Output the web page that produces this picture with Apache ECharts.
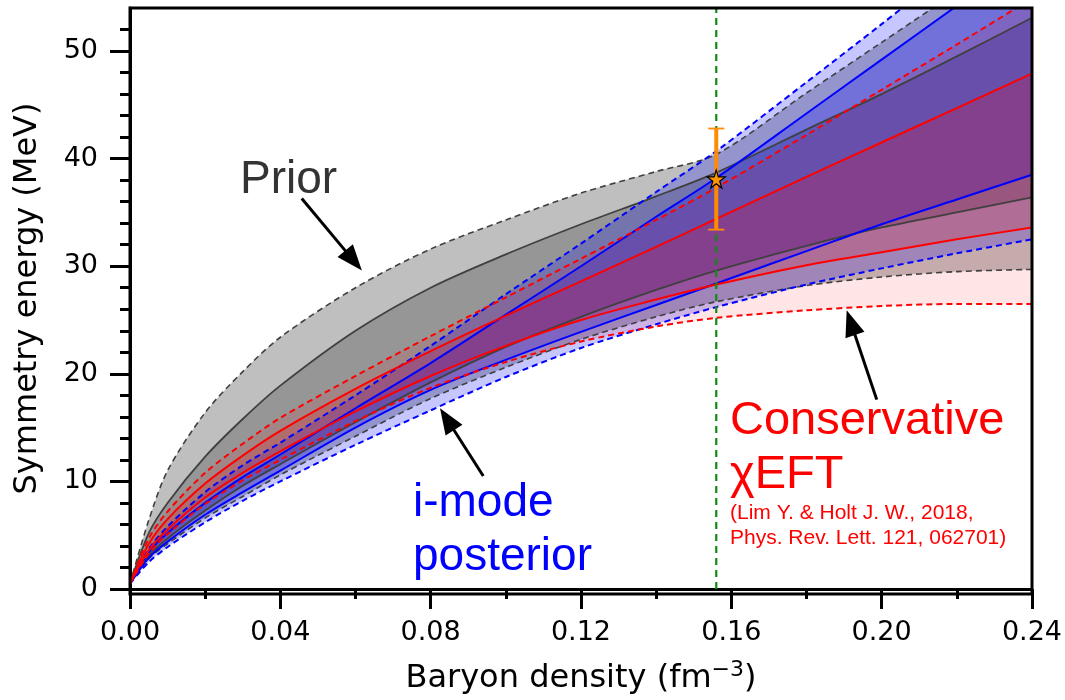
<!DOCTYPE html>
<html><head><meta charset="utf-8">
<script src="https://cdn.jsdelivr.net/npm/echarts@6/dist/echarts.min.js"></script>
<style>html,body{margin:0;padding:0;background:#fff}#c{width:1065px;height:700px}</style>
</head><body><div id="c"></div>
<script>
// ---- data ----
const density = [0, 0.005, 0.01, 0.02, 0.03, 0.04, 0.06, 0.08, 0.10, 0.12, 0.14, 0.156, 0.18, 0.20, 0.22, 0.24];

const priorUpper95 = [0.5, 6.4, 11.0, 16.4, 20.2, 23.4, 28.0, 31.6, 34.3, 36.8, 38.8, 40.4, 46.1, 50.8, 55.5, 60.2];
const priorUpper68 = [0.5, 5.2, 8.0, 12.3, 15.8, 18.9, 24.0, 28.0, 31.1, 33.9, 36.5, 38.7, 42.7, 46.0, 49.5, 53.1];
const priorLower68 = [0.5, 3.1, 4.7, 7.3, 9.6, 11.6, 15.5, 19.2, 22.5, 25.3, 27.8, 29.6, 31.9, 33.6, 35.0, 36.4];
const priorLower95 = [0.5, 2.8, 4.2, 6.6, 8.6, 10.6, 14.2, 17.7, 20.6, 23.2, 25.3, 26.7, 28.2, 29.0, 29.5, 29.7];

const imodeUpper95 = [0.5, 3.7, 5.8, 9.0, 11.5, 13.6, 18.0, 22.6, 27.4, 32.1, 36.9, 40.7, 47.1, 52.5, 58.0, 63.4];
const imodeUpper68 = [0.5, 3.4, 5.2, 8.0, 10.4, 12.5, 16.8, 21.0, 25.5, 30.0, 34.6, 38.2, 44.2, 49.2, 54.2, 59.2];
const imodeLower68 = [0.5, 2.9, 4.4, 6.9, 9.0, 11.0, 15.0, 18.5, 21.3, 23.9, 26.4, 28.4, 31.4, 33.9, 36.2, 38.5];
const imodeLower95 = [0.5, 2.5, 3.9, 6.2, 8.2, 10.0, 13.4, 16.6, 19.7, 22.4, 24.6, 26.2, 28.3, 29.8, 31.2, 32.5];

const eftUpper95 = [0.5, 4.7, 7.2, 10.8, 13.5, 15.9, 19.8, 23.5, 27.1, 30.7, 34.3, 37.3, 42.2, 46.4, 50.6, 54.9];
const eftUpper68 = [0.5, 4.2, 6.5, 9.8, 12.4, 14.7, 18.6, 22.1, 25.4, 28.6, 31.8, 34.4, 38.3, 41.5, 44.7, 47.9];
const eftLower68 = [0.5, 3.6, 5.5, 8.5, 10.8, 12.8, 16.5, 19.8, 22.6, 25.0, 26.9, 28.3, 30.1, 31.3, 32.5, 33.6];
const eftLower95 = [0.5, 3.3, 5.1, 7.9, 10.1, 12.0, 15.6, 18.7, 21.1, 23.0, 24.4, 25.2, 25.9, 26.3, 26.5, 26.5];

const saturationDensity = [0.156];
const measurement = [[0.156, 38.1, 33.4, 42.8]]; // x, value, low, high

const yMajorTicks = [0, 10, 20, 30, 40, 50];
const yMinorTicks = [2,4,6,8,12,14,16,18,22,24,26,28,32,34,36,38,42,44,46,48,52];

// annotation arrows: tail x, tail y, tip x, tip y (data units)
const arrows = [
  [0.0457, 36.3, 0.0617, 29.6],
  [0.0940, 10.5, 0.0825, 16.8],
  [0.1987, 17.6, 0.1907, 25.9]
];

// ---- chart ----
const SM = 0.3;
const Y_MIN = 0, Y_MAX = 54;
const pts = ys => density.map((x, i) => [x, ys[i]]);
// stacked band: store [value, x] so the value dimension is the stacked one
const ptsSwap = ys => density.map((x, i) => [ys[i], x]);
const diffSwap = (up, lo) => density.map((x, i) => [up[i] - lo[i], x]);

function band(id, lo, up, color) {
  return [
    {type:'line', stack:id, data:ptsSwap(lo), encode:{x:1, y:0}, symbol:'none', smooth:SM, silent:true,
     lineStyle:{width:0, opacity:0}},
    {type:'line', stack:id, data:diffSwap(up, lo), encode:{x:1, y:0}, symbol:'none', smooth:SM, silent:true,
     lineStyle:{width:0, opacity:0}, areaStyle:{color:color, opacity:1}}
  ];
}
function curve(ys, color, width, dashed) {
  return {type:'line', data:pts(ys), symbol:'none', smooth:SM, silent:true,
    lineStyle:{color:color, width:width, type: dashed ? [6,4] : 'solid'}};
}

const GRAY = '#404040', BLUE = '#0000ff', RED = '#ff0000';
const series = [].concat(
  band('p95', priorLower95, priorUpper95, 'rgba(128,128,128,0.5)'),
  band('p68', priorLower68, priorUpper68, 'rgba(110,110,110,0.5)'),
  [curve(priorUpper95, GRAY, 1.6, true), curve(priorLower95, GRAY, 1.6, true),
   curve(priorUpper68, GRAY, 1.8, false), curve(priorLower68, GRAY, 1.8, false)],
  band('b95', imodeLower95, imodeUpper95, 'rgba(0,0,255,0.22)'),
  band('b68', imodeLower68, imodeUpper68, 'rgba(0,0,255,0.24)'),
  [curve(imodeUpper95, BLUE, 2, true), curve(imodeLower95, BLUE, 2, true),
   curve(imodeUpper68, BLUE, 2, false), curve(imodeLower68, BLUE, 2, false)],
  band('r95', eftLower95, eftUpper95, 'rgba(255,0,0,0.10)'),
  band('r68', eftLower68, eftUpper68, 'rgba(255,0,0,0.18)'),
  [curve(eftUpper95, RED, 2, true), curve(eftLower95, RED, 2, true),
   curve(eftUpper68, RED, 2, false), curve(eftLower68, RED, 2, false)],
  [{
    type:'custom', data:saturationDensity.map(v => [v]), z:9, silent:true, clip:false,
    encode:{x:0},
    renderItem:function(params, api){
      const x = api.value(0);
      const a = api.coord([x, Y_MIN]), b = api.coord([x, Y_MAX]);
      return {type:'line', shape:{x1:a[0], y1:a[1], x2:b[0], y2:b[1]},
              style:{stroke:'#138a13', lineWidth:2.2, lineDash:[7,5]}};
    }
  },
  {
    type:'custom', data:measurement, z:10, silent:true, clip:false,
    encode:{x:0, y:[1,2,3]},
    renderItem:function(params, api){
      const x = api.value(0);
      const lo = api.coord([x, api.value(2)]), hi = api.coord([x, api.value(3)]);
      const c = '#ff8c00';
      return {type:'group', children:[
        {type:'line', shape:{x1:lo[0], y1:lo[1], x2:hi[0], y2:hi[1]}, style:{stroke:c, lineWidth:4}},
        {type:'line', shape:{x1:lo[0]-8, y1:lo[1], x2:lo[0]+8, y2:lo[1]}, style:{stroke:c, lineWidth:1.8}},
        {type:'line', shape:{x1:hi[0]-8, y1:hi[1], x2:hi[0]+8, y2:hi[1]}, style:{stroke:c, lineWidth:1.8}}
      ]};
    }
  },
  {
    type:'scatter', z:11, silent:true,
    data: measurement.map(d => [d[0], d[1]]),
    symbol:'path://M50,0 L61.2,34.5 L97.6,34.5 L68.2,55.9 L79.4,90.5 L50,69.1 L20.6,90.5 L31.8,55.9 L2.4,34.5 L38.8,34.5 Z',
    symbolSize:18,
    itemStyle:{color:'#ff9500', borderColor:'#000', borderWidth:1.2, opacity:1}
  },
  {
    type:'custom', data:arrows, z:12, silent:true, clip:false,
    encode:{x:[0,2], y:[1,3]},
    renderItem:function(params, api){
      const p1 = api.coord([api.value(0), api.value(1)]);
      const p2 = api.coord([api.value(2), api.value(3)]);
      const dx = p2[0]-p1[0], dy = p2[1]-p1[1], L = Math.hypot(dx, dy);
      const ux = dx/L, uy = dy/L, hl = 26, hw = 10;
      const bx = p2[0]-ux*hl, by = p2[1]-uy*hl;
      return {type:'group', children:[
        {type:'line', shape:{x1:p1[0], y1:p1[1], x2:bx+ux*2, y2:by+uy*2}, style:{stroke:'#000', lineWidth:3}},
        {type:'polygon', shape:{points:[[p2[0],p2[1]],[bx-uy*hw, by+ux*hw],[bx+uy*hw, by-ux*hw]]}, style:{fill:'#000'}}
      ]};
    }
  }]
);

const tickFont = {fontSize:27, color:'#000', fontFamily:'DejaVu Sans'};
const option = {
  animation:false,
  backgroundColor:'#fff',
  grid:{left:130, right:33, top:8, bottom:106},
  xAxis:{
    type:'value', min:0, max:0.24, interval:0.04,
    axisLine:{onZero:false, lineStyle:{color:'#000', width:3}},
    axisTick:{length:20, lineStyle:{color:'#000', width:3}},
    minorTick:{show:true, splitNumber:2, length:10, lineStyle:{color:'#000', width:3}},
    splitLine:{show:false}, minorSplitLine:{show:false},
    axisLabel:Object.assign({margin:30, formatter:v => v.toFixed(2)}, tickFont),
    name:'Baryon density (fm{sup|−3})', nameLocation:'middle', nameGap:70,
    nameTextStyle:{fontSize:32, color:'#000', fontFamily:'DejaVu Sans',
      rich:{sup:{fontSize:22, verticalAlign:'top', padding:[0,0,18,0], color:'#000', fontFamily:'DejaVu Sans'}}}
  },
  yAxis:[{
    type:'value', min:Y_MIN, max:Y_MAX, interval:2,
    axisLine:{onZero:false, lineStyle:{color:'#000', width:3}},
    axisTick:{customValues:yMajorTicks, length:20, lineStyle:{color:'#000', width:3}},
    splitLine:{show:false},
    axisLabel:Object.assign({customValues:yMajorTicks, margin:32}, tickFont),
    name:'Symmetry energy (MeV)', nameLocation:'middle', nameGap:86,
    nameTextStyle:{fontSize:32, color:'#000', fontFamily:'DejaVu Sans'}
  },{
    type:'value', min:Y_MIN, max:Y_MAX, interval:2, position:'left',
    axisLine:{show:false},
    axisTick:{customValues:yMinorTicks, length:10, lineStyle:{color:'#000', width:3}},
    axisLabel:{show:false}, splitLine:{show:false}
  }],
  series:series,
  graphic:[
    {type:'rect', z:100, silent:true, shape:{x:130, y:8, width:902, height:586},
     style:{fill:'none', stroke:'#000', lineWidth:3}},
    {type:'text', left:240, top:157, z:100,
     style:{text:'Prior', fontSize:46, fontFamily:'Liberation Sans', fill:'#333'}},
    {type:'text', left:413, top:476, z:100,
     style:{text:'i-mode\nposterior', fontSize:46, lineHeight:54, fontFamily:'Liberation Sans', fill:'#0000ff'}},
    {type:'text', left:730, top:394, z:100,
     style:{text:'Conservative\nχEFT', fontSize:47, lineHeight:54, fontFamily:'Liberation Sans', fill:'#ff0000'}},
    {type:'text', left:730, top:501, z:100,
     style:{text:'(Lim Y. & Holt J. W., 2018,\nPhys. Rev. Lett. 121, 062701)', fontSize:21, lineHeight:25, fontFamily:'Liberation Sans', fill:'#ff0000'}}
  ]
};
const chart = echarts.init(document.getElementById('c'));
chart.setOption(option);
</script></body></html>
